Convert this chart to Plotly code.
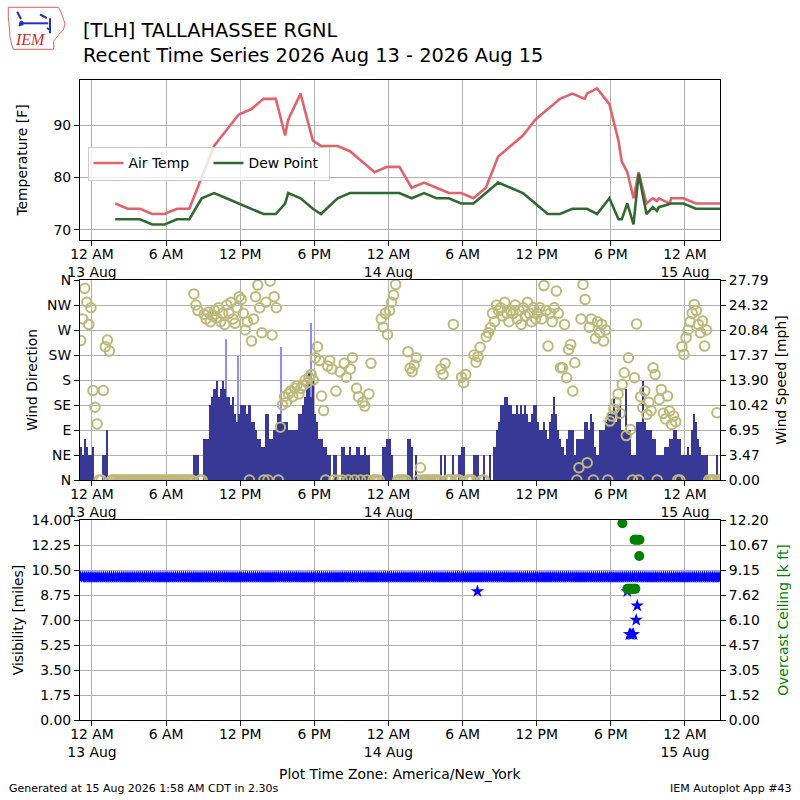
import plotly.graph_objects as go
import pandas as pd

# ---------------- data ----------------
# Hourly (METAR + specials) temperature / dew point, local time America/New_York
temp_times = [
    "2026-08-13 01:53", "2026-08-13 02:53", "2026-08-13 03:53", "2026-08-13 04:53",
    "2026-08-13 05:53", "2026-08-13 06:53", "2026-08-13 07:53", "2026-08-13 08:53",
    "2026-08-13 09:53", "2026-08-13 10:53", "2026-08-13 11:53", "2026-08-13 12:53",
    "2026-08-13 13:53", "2026-08-13 14:53", "2026-08-13 15:38", "2026-08-13 15:53",
    "2026-08-13 16:53", "2026-08-13 17:53", "2026-08-13 18:32", "2026-08-13 19:53",
    "2026-08-13 20:53", "2026-08-13 21:53", "2026-08-13 22:53", "2026-08-13 23:53",
    "2026-08-14 00:53", "2026-08-14 01:53", "2026-08-14 02:53", "2026-08-14 03:53",
    "2026-08-14 04:53", "2026-08-14 05:53", "2026-08-14 06:53", "2026-08-14 07:53",
    "2026-08-14 08:53", "2026-08-14 09:53", "2026-08-14 10:53", "2026-08-14 11:53",
    "2026-08-14 12:53", "2026-08-14 13:53", "2026-08-14 14:53", "2026-08-14 15:53",
    "2026-08-14 16:04", "2026-08-14 16:53", "2026-08-14 17:53", "2026-08-14 18:37",
    "2026-08-14 18:53", "2026-08-14 19:20", "2026-08-14 19:50", "2026-08-14 20:15",
    "2026-08-14 20:53", "2026-08-14 21:24", "2026-08-14 21:44", "2026-08-14 21:53",
    "2026-08-14 22:45", "2026-08-14 22:53", "2026-08-14 23:53", "2026-08-15 00:53",
    "2026-08-15 01:53", "2026-08-15 02:53",
]
air_temp = [
    75, 74, 74, 73, 73, 74, 74, 80, 86, 89, 92, 93, 95, 95, 88, 91, 96, 87, 86, 86,
    85, 83, 81, 82, 82, 78, 79, 78, 77, 77, 76, 78, 84, 86, 88, 91, 93, 95, 96, 95,
    96, 97, 94, 87, 83, 81, 76, 81, 75, 76, 75.5, 76, 75, 76, 76, 75, 75, 75,
]
dew_point = [
    72, 72, 72, 71, 71, 72, 72, 76, 77, 76, 75, 74, 73, 73, 75, 77, 76, 74, 73, 76,
    77, 77, 77, 77, 77, 76, 77, 76, 76, 75, 75, 77, 79, 78, 77, 75, 73, 73, 74, 74,
    74, 73, 76, 72, 72, 75, 71, 80.7, 73, 74.3, 73.6, 74.3, 75, 75, 75, 74, 74, 74,
]

# Wind, 10-minute bins starting 2026-08-12 23:00 (one row per hour, 6 bins each)
wind_start = "2026-08-12 23:05"
wind_speed_kt = [
    [4, 3, 5, 4, 3, 3],        # 23 Aug 12
    [4, 0, 0, 0, 0, 3],        # 00 Aug 13
    [3, 6, 0, 0, 0, 0],
    [0, 0, 0, 0, 0, 0],
    [0, 0, 0, 0, 0, 0],
    [0, 0, 0, 0, 0, 0],
    [0, 0, 0, 0, 0, 0],
    [0, 0, 0, 0, 0, 0],
    [0, 0, 0, 0, 0, 0],
    [0, 3, 3, 3, 0, 0],        # 08
    [5, 5, 5, 9, 10, 11],
    [12, 10, 11, 12, 11, 10],
    [10, 9, 10, 8, 7, 8],
    [9, 9, 9, 8, 9, 7],        # 12
    [7, 6, 5, 5, 4, 4],
    [8, 8, 5, 5, 6, 6],
    [8, 8, 7, 7, 7, 6],
    [6, 6, 6, 6, 8, 8],        # 16
    [9, 10, 12, 13, 10, 12],
    [8, 7, 5, 5, 4, 4],
    [3, 3, 0, 3, 3, 0],
    [0, 4, 4, 3, 3, 4],        # 20
    [3, 3, 4, 4, 3, 3],
    [4, 3, 3, 0, 0, 0],
    [0, 0, 0, 4, 4, 5],
    [5, 3, 0, 0, 0, 0],        # 00 Aug 14
    [0, 0, 0, 5, 5, 4],
    [0, 3, 0, 0, 0, 0],
    [0, 0, 0, 0, 0, 0],
    [0, 3, 0, 3, 0, 0],        # 04
    [0, 3, 0, 0, 3, 4],
    [4, 0, 0, 0, 0, 3],
    [3, 3, 0, 0, 3, 0],
    [0, 3, 0, 4, 6, 7],        # 08
    [9, 9, 10, 10, 9, 9],
    [8, 8, 9, 8, 9, 8],
    [9, 8, 7, 8, 9, 9],
    [7, 6, 6, 7, 6, 5],        # 12
    [7, 8, 10, 8, 6, 5],
    [4, 3, 5, 6, 6, 6],
    [3, 5, 5, 5, 5, 7],
    [7, 6, 8, 7, 4, 3],        # 16
    [6, 6, 6, 7, 8, 8],
    [8, 10, 7, 9, 9, 6],
    [6, 11, 6, 6, 3, 3],
    [7, 7, 7, 12, 7, 6],       # 20
    [6, 6, 5, 5, 3, 3],
    [3, 3, 4, 4, 5, 5],
    [6, 6, 5, 5, 3, 3],
    [3, 4, 3, 6, 8, 7],        # 00 Aug 15
    [5, 4, 3, 3, 3, 0],
    [0, 0, 0, 3, 0, 0],
]
wind_dir_deg = [
    [251, 290, 345, 320, 280, 310],
    [161, 131, 101, 0, 0, 161],
    [240, 252, 232, 0, 0, 0],
    [0, 0, 0, 0, 0, 0],
    [0, 0, 0, 0, 0, 0],
    [0, 0, 0, 0, 0, 0],
    [0, 0, 0, 0, 0, 0],
    [0, 0, 0, 0, 0, 0],
    [0, 0, 0, 0, 0, 0],
    [0, 335, 315, 305, 0, 0],
    [298, 290, 302, 285, 296, 305],
    [292, 310, 285, 300, 280, 315],
    [300, 320, 290, 282, 310, 330],
    [325, 300, 270, 285, 0, 250],
    [290, 330, 351, 310, 265, 0],
    [320, 0, 358, 261, 330, 310],
    [0, 95, 135, 150, 140, 155],
    [160, 150, 165, 170, 155, 165],
    [170, 180, 175, 185, 190, 180],
    [220, 240, 215, 151, 125, 0],
    [205, 215, 200, 0, 160, 0],
    [195, 0, 210, 185, 0, 200],
    [220, 0, 165, 150, 0, 140],
    [133, 0, 155, 210, 0, 0],
    [0, 0, 290, 275, 300, 262],
    [305, 320, 333, 352, 0, 0],
    [0, 0, 0, 231, 201, 195],
    [207, 220, 0, 22, 0, 0],
    [0, 0, 0, 0, 0, 0],
    [0, 200, 190, 210, 0, 0],
    [0, 280, 0, 0, 0, 185],
    [175, 190, 0, 0, 0, 225],
    [212, 222, 239, 0, 0, 258],
    [265, 274, 300, 285, 315, 305],
    [310, 295, 320, 300, 285, 305],
    [300, 315, 290, 305, 280, 310],
    [295, 320, 300, 285, 310, 290],
    [300, 310, 290, 350, 305, 241],
    [300, 285, 310, 340, 300, 202],
    [202, 280, 184, 235, 244, 160],
    [211, 0, 22, 290, 352, 325],
    [31, 275, 290, 0, 255, 285],
    [265, 280, 250, 270, 0, 106],
    [115, 128, 140, 155, 120, 172],
    [193, 80, 220, 91, 0, 184],
    [281, 0, 150, 130, 160, 118],
    [140, 125, 202, 190, 0, 145],
    [163, 120, 110, 151, 124, 100],
    [115, 105, 0, 0, 240, 226],
    [256, 270, 285, 300, 316, 305],
    [280, 265, 286, 241, 270, 0],
    [0, 0, 0, 121, 0, 0],
]
gust_times = ["2026-08-13 10:51", "2026-08-13 11:49", "2026-08-13 15:18", "2026-08-13 17:44"]
gust_kt = [17, 15, 16, 19]

# Visibility: 10-minute bins (same clock as wind), plus lower special readings
vis_miles = [[10.0] * 6 for _ in range(52)]
vis_low_times = ["2026-08-14 07:12", "2026-08-14 19:20", "2026-08-14 19:30",
                 "2026-08-14 19:36", "2026-08-14 19:44", "2026-08-14 19:50",
                 "2026-08-14 20:03", "2026-08-14 20:08"]
vis_low_miles = [9.0, 9.0, 6.0, 6.0, 6.0, 6.0, 7.0, 8.0]

ceil_times = ["2026-08-14 18:56", "2026-08-14 19:20", "2026-08-14 19:28", "2026-08-14 19:36",
              "2026-08-14 19:44", "2026-08-14 19:52", "2026-08-14 19:59", "2026-08-14 19:55",
              "2026-08-14 20:03", "2026-08-14 20:11", "2026-08-14 20:19", "2026-08-14 20:18"]
ceil_kft = [12.0, 8.0, 8.0, 8.0, 8.0, 8.0, 8.0, 11.0, 11.0, 11.0, 11.0, 10.0]

tick_times = ["2026-08-13 00:00", "2026-08-13 06:00", "2026-08-13 12:00", "2026-08-13 18:00",
              "2026-08-14 00:00", "2026-08-14 06:00", "2026-08-14 12:00", "2026-08-14 18:00",
              "2026-08-15 00:00"]
tick_labels = ["12 AM<br>13 Aug", "6 AM", "12 PM", "6 PM", "12 AM<br>14 Aug",
               "6 AM", "12 PM", "6 PM", "12 AM<br>15 Aug"]
dir_labels = ["N", "NE", "E", "SE", "S", "SW", "W", "NW", "N"]
speed_labels = ["0.00", "3.47", "6.95", "10.42", "13.90", "17.37", "20.84", "24.32", "27.79"]
vis_labels = ["0.00", "1.75", "3.50", "5.25", "7.00", "8.75", "10.50", "12.25", "14.00"]
ceil_labels = ["0.00", "1.52", "3.05", "4.57", "6.10", "7.62", "9.15", "10.67", "12.20"]

# ---------------- derived ----------------
KT2MPH = 1.15078
wind_times = pd.date_range(start=wind_start, periods=6 * len(wind_speed_kt), freq="10min")
speed_mph = [v * KT2MPH for row in wind_speed_kt for v in row]
direction = [v for row in wind_dir_deg for v in row]
gust_mph = [v * KT2MPH for v in gust_kt]
vis_all = pd.Series([v for row in vis_miles for v in row], index=wind_times)
vis_all = pd.concat([vis_all, pd.Series(vis_low_miles, index=pd.to_datetime(vis_low_times))]).sort_index()

FONT = "DejaVu Sans"
XR = ["2026-08-12 23:02", "2026-08-15 02:50"]
GRID = "#b0b0b0"


def P(px, py):
    return (px - 80) / 640.0, (720 - py) / 640.0


fig = go.Figure()
fig.add_trace(go.Scatter(x=temp_times, y=air_temp, name="Air Temp", mode="lines",
                         line=dict(color="#e0636b", width=2.6), xaxis="x", yaxis="y"))
fig.add_trace(go.Scatter(x=temp_times, y=dew_point, name="Dew Point", mode="lines",
                         line=dict(color="#306a30", width=2.6), xaxis="x", yaxis="y"))
fig.add_trace(go.Bar(x=pd.to_datetime(gust_times), y=gust_mph, width=100000,
                     marker=dict(color="#8c8cff", line=dict(width=0)), showlegend=False,
                     xaxis="x2", yaxis="y2"))
fig.add_trace(go.Bar(x=wind_times, y=speed_mph, width=600000,
                     marker=dict(color="#383897", line=dict(width=0)), showlegend=False,
                     xaxis="x2", yaxis="y2"))
fig.add_trace(go.Scatter(x=wind_times, y=direction, mode="markers", showlegend=False,
                         marker=dict(symbol="circle-open", size=9.5, color="#bdb979",
                                     line=dict(width=2, color="#bdb979")),
                         xaxis="x2", yaxis="y3"))
fig.add_trace(go.Scatter(x=vis_all.index, y=vis_all.values, mode="markers", showlegend=False,
                         marker=dict(symbol="star", size=10, color="#0000ff", line=dict(width=0)),
                         xaxis="x3", yaxis="y4"))
fig.add_trace(go.Scatter(x=pd.to_datetime(ceil_times), y=ceil_kft, mode="markers", showlegend=False,
                         marker=dict(symbol="circle", size=10, color="#008000", line=dict(width=0)),
                         xaxis="x3", yaxis="y5"))

tickfont = dict(family=FONT, size=13.9, color="black")
common_x = dict(type="date", range=XR, tickmode="array", tickvals=tick_times, ticktext=tick_labels,
                ticks="outside", ticklen=5, tickcolor="black", showline=True, linecolor="black",
                linewidth=1.1, mirror=True, showgrid=True, gridcolor=GRID, gridwidth=1,
                tickfont=tickfont, zeroline=False, ticklabelstandoff=-4)
common_y = dict(ticks="outside", ticklen=5, tickcolor="black", showline=True, linecolor="black",
                linewidth=1.1, mirror=True, tickfont=tickfont, zeroline=False, tickmode="array")
title_font = dict(family=FONT, size=13.9, color="black")

fig.update_layout(
    width=800, height=800,
    margin=dict(l=80, r=80, t=80, b=80, autoexpand=False),
    paper_bgcolor="white", plot_bgcolor="white",
    barmode="overlay", bargap=0,
    font=dict(family=FONT, size=13.9, color="black"),
    xaxis=dict(common_x, anchor="y", domain=[0, 1]),
    xaxis2=dict(common_x, anchor="y2", domain=[0, 1]),
    xaxis3=dict(common_x, anchor="y4", domain=[0, 1]),
    yaxis=dict(common_y, domain=[0.75, 1.0], anchor="x", range=[68.03, 98.6],
               tickvals=[70, 80, 90], ticktext=["70", "80", "90"], showgrid=True, gridcolor=GRID,
               title=dict(text="Temperature [F]", font=title_font, standoff=22)),
    yaxis2=dict(common_y, domain=[0.375, 0.6875], anchor="x2", side="right", range=[0, 27.79],
                tickvals=[i * 27.79 / 8 for i in range(9)], ticktext=speed_labels, showgrid=False,
                title=dict(text="Wind Speed [mph]", font=title_font, standoff=8)),
    yaxis3=dict(common_y, overlaying="y2", anchor="x2", side="left", range=[0, 360],
                tickvals=[i * 45 for i in range(9)], ticktext=dir_labels, showgrid=True, gridcolor=GRID,
                title=dict(text="Wind Direction", font=title_font, standoff=6)),
    yaxis4=dict(common_y, domain=[0, 0.3125], anchor="x3", side="left", range=[0, 14],
                tickvals=[i * 1.75 for i in range(9)], ticktext=vis_labels, showgrid=True, gridcolor=GRID,
                title=dict(text="Visibility [miles]", font=title_font, standoff=4)),
    yaxis5=dict(common_y, overlaying="y4", anchor="x3", side="right", range=[0, 12.2],
                tickvals=[i * 12.2 / 8 for i in range(9)], ticktext=ceil_labels, showgrid=False,
                title=dict(text="Overcast Ceiling [k ft]", font=dict(family=FONT, size=13.9, color="#008000"),
                           standoff=10)),
    legend=dict(orientation="h", x=P(87.5, 0)[0], y=P(0, 146.5)[1], xanchor="left", yanchor="top",
                bgcolor="rgba(255,255,255,0.8)", bordercolor="#cccccc", borderwidth=1,
                font=dict(family=FONT, size=13.9, color="black"), itemwidth=30,
                entrywidth=75, tracegroupgap=0),
)

ann = []
x0, y0 = P(81, 30)
ann.append(dict(text="[TLH] TALLAHASSEE RGNL", x=x0, y=y0, xref="paper", yref="paper",
                xanchor="left", yanchor="middle", showarrow=False,
                font=dict(family=FONT, size=19.4, color="black")))
x0, y0 = P(81, 56)
ann.append(dict(text="Recent Time Series 2026 Aug 13 - 2026 Aug 15", x=x0, y=y0, xref="paper",
                yref="paper", xanchor="left", yanchor="middle", showarrow=False,
                font=dict(family=FONT, size=19.4, color="black")))
x0, y0 = P(400, 774)
ann.append(dict(text="Plot Time Zone: America/New_York", x=x0, y=y0, xref="paper", yref="paper",
                xanchor="center", yanchor="middle", showarrow=False,
                font=dict(family=FONT, size=13.9, color="black")))
x0, y0 = P(7, 788)
ann.append(dict(text="Generated at 15 Aug 2026 1:58 AM CDT in 2.30s", x=x0, y=y0, xref="paper",
                yref="paper", xanchor="left", yanchor="middle", showarrow=False,
                font=dict(family=FONT, size=11, color="black")))
x0, y0 = P(794, 788)
ann.append(dict(text="IEM Autoplot App #43", x=x0, y=y0, xref="paper", yref="paper",
                xanchor="right", yanchor="middle", showarrow=False,
                font=dict(family=FONT, size=11, color="black")))
x0, y0 = P(30.5, 39)
ann.append(dict(text="<i>IEM</i>", x=x0, y=y0, xref="paper", yref="paper",
                xanchor="center", yanchor="middle", showarrow=False,
                font=dict(family="Liberation Serif", size=16, color="#d42a2a")))
fig.update_layout(annotations=ann)


def path(points, close=True):
    s = ""
    for i, (px, py) in enumerate(points):
        x, y = P(px, py)
        s += ("M" if i == 0 else "L") + f"{x:.5f},{y:.5f} "
    return s + ("Z" if close else "")


iowa = [(8.3, 7.3), (58.3, 7.3), (60, 10), (62.7, 16.7), (65, 24), (63.3, 30), (60, 33.3),
        (55, 39.3), (53.3, 41.7), (54, 46), (53.3, 49.3), (13.3, 49.3), (11.5, 44), (10, 36.7),
        (9.3, 26.7), (8.3, 16.7)]
shapes = [dict(type="path", path=path(iowa), xref="paper", yref="paper",
               line=dict(color="#e06060", width=1))]
for seg in [[(17.3, 11.7), (21, 19)], [(21.7, 23.3), (48.3, 23.3)], [(40, 14.5), (46.7, 18)],
            [(50, 18.3), (50, 33.3)], [(47, 28), (50, 30)], [(19, 26), (21.5, 23.5)]]:
    shapes.append(dict(type="path", path=path(seg, close=False), xref="paper", yref="paper",
                       line=dict(color="#1f2fc8", width=2)))
cx0, cy0 = P(19.5, 21.3)
cx1, cy1 = P(23.5, 25.3)
shapes.append(dict(type="circle", x0=cx0, y0=cy0, x1=cx1, y1=cy1, xref="paper", yref="paper",
                   fillcolor="#1f2fc8", line=dict(color="#1f2fc8", width=1)))
fig.update_layout(shapes=shapes)

fig.write_html("out.html", config={"displayModeBar": False},
               post_script="document.body.style.margin='0px';")
